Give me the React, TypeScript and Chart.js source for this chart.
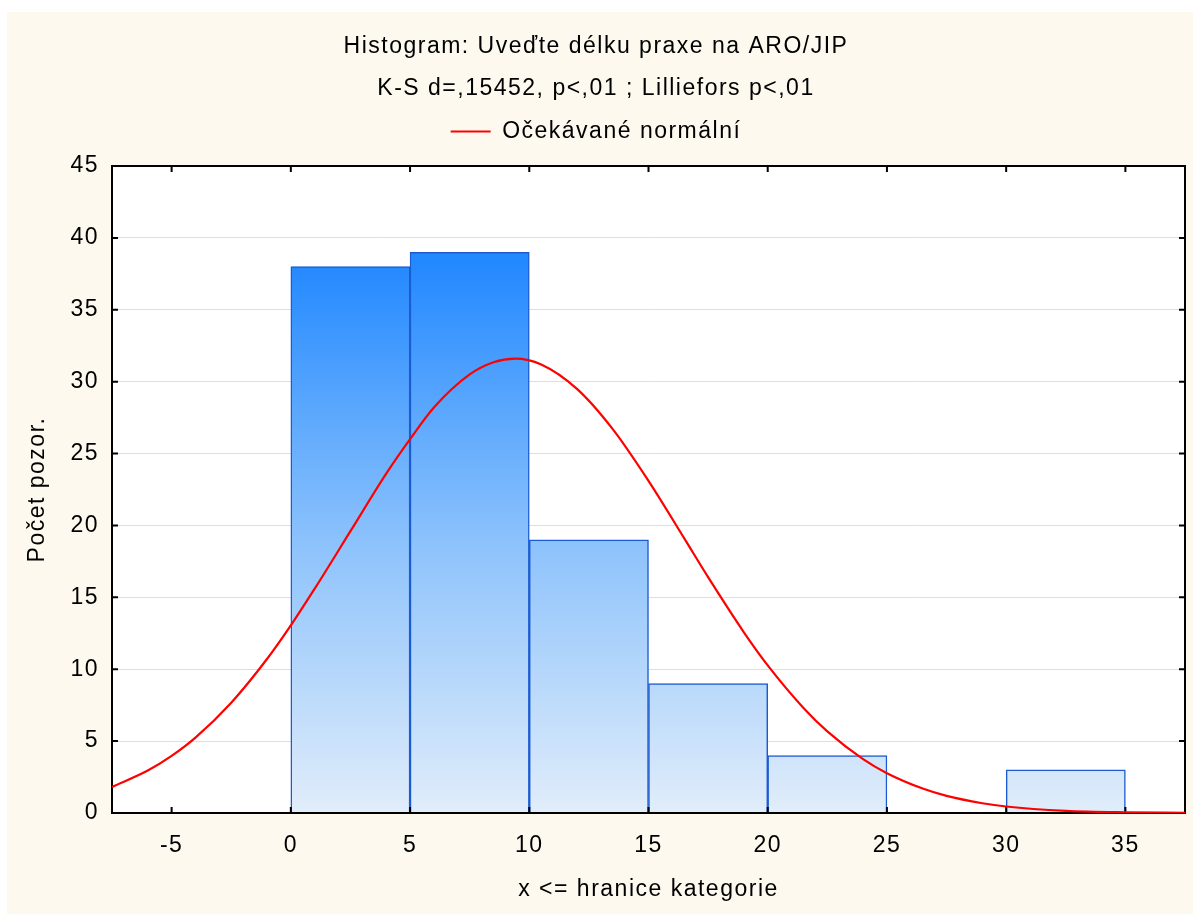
import React, { useEffect, useRef } from 'react';
import { Chart, registerables, layouts } from 'chart.js';

Chart.register(...registerables);

const titleLines = ['Histogram: Uveďte délku praxe na ARO/JIP', 'K-S d=,15452, p<,01 ; Lilliefors p<,01'];
const legendLabel = 'Očekávané normální';
const xAxisTitle = 'x <= hranice kategorie';
const yAxisTitle = 'Počet pozor.';

const binStarts = [-5, 0, 5, 10, 15, 20, 25, 30];
const binWidth = 5;
const binCounts = [0, 38, 39, 19, 9, 4, 0, 3];

const curveX = [-7.5, -6, -5, -4, -2.5, -1, 0, 1, 2.5, 4, 5, 6, 7.5, 8.5, 9.4, 10.5, 12, 13.5, 15, 16.5, 17.5, 19, 20, 21.5, 22.5, 24, 25, 26.5, 27.5, 29, 30, 32.5, 35, 37.5];
const curveY = [1.81, 2.95, 3.97, 5.24, 7.67, 10.71, 13.05, 15.6, 19.6, 23.6, 26.0, 28.2, 30.5, 31.35, 31.6, 31.2, 29.5, 26.7, 23.1, 19.1, 16.4, 12.57, 10.27, 7.31, 5.68, 3.75, 2.77, 1.7, 1.19, 0.68, 0.45, 0.15, 0.045, 0.012];

const xTickValues = [-5, 0, 5, 10, 15, 20, 25, 30, 35];
const yTickValues = [0, 5, 10, 15, 20, 25, 30, 35, 40, 45];

const FONT = "'Liberation Sans', Arial, sans-serif";
const FONT_SIZE = 23;
const CREAM = '#fdf9ef';
const SPACING = '1.5px';

const framePlugin = {
  id: 'statFrame',
  beforeInit(chart: any) {
    const spacer: any = {
      position: 'top',
      weight: 500,
      fullSize: true,
      options: {},
      top: 0,
      left: 0,
      right: 0,
      bottom: 0,
      width: 0,
      height: 0,
      isHorizontal() {
        return true;
      },
      update(maxWidth: number) {
        this.width = maxWidth;
        this.height = 13;
      },
      draw() {},
    };
    layouts.addBox(chart, spacer);
  },
  beforeUpdate(chart: any) {
    chart.ctx.letterSpacing = SPACING;
  },
  beforeDraw(chart: any) {
    const { ctx, chartArea, width, height } = chart;
    ctx.letterSpacing = SPACING;
    ctx.save();
    ctx.fillStyle = CREAM;
    ctx.fillRect(0, 0, width, height);
    ctx.fillStyle = '#ffffff';
    ctx.fillRect(chartArea.left, chartArea.top, chartArea.right - chartArea.left, chartArea.bottom - chartArea.top);
    ctx.restore();
  },
  afterDatasetDraw(chart: any, args: any) {
    if (args.index !== 0) return;
    const { ctx, chartArea } = chart;
    const xs = chart.scales.x;
    const ys = chart.scales.y;
    const { left, right, top, bottom } = chartArea;
    ctx.save();
    ctx.strokeStyle = '#000';
    ctx.lineWidth = 2;
    ctx.strokeRect(left, top, right - left, bottom - top);
    const tl = 6;
    ctx.beginPath();
    xTickValues.forEach((v) => {
      const px = xs.getPixelForValue(v);
      ctx.moveTo(px, bottom);
      ctx.lineTo(px, bottom - tl);
      ctx.moveTo(px, top);
      ctx.lineTo(px, top + tl);
    });
    yTickValues.forEach((v) => {
      const py = ys.getPixelForValue(v);
      ctx.moveTo(left, py);
      ctx.lineTo(left + tl, py);
      ctx.moveTo(right, py);
      ctx.lineTo(right - tl, py);
    });
    ctx.stroke();
    ctx.restore();
  },
};

export default function App() {
  const ref = useRef<HTMLCanvasElement | null>(null);

  useEffect(() => {
    document.body.style.margin = '0';
    document.body.style.background = '#ffffff';
    const canvas = ref.current;
    if (!canvas) return;
    Chart.defaults.font.family = FONT;

    const barData = binStarts.map((s, i) => ({ x: s + binWidth / 2, y: binCounts[i] }));
    const lineData = curveX.map((x, i) => ({ x, y: curveY[i] }));

    const gradient = (c: any) => {
      const chart = c.chart;
      const area = chart.chartArea;
      if (!area) return '#2a8cff';
      const g = chart.ctx.createLinearGradient(0, area.top, 0, area.bottom);
      g.addColorStop(0, '#1782ff');
      g.addColorStop(0.15, '#2389ff');
      g.addColorStop(0.58, '#8cc2fc');
      g.addColorStop(1, '#e1edfa');
      return g;
    };

    const chart = new Chart(canvas, {
      type: 'bar',
      data: {
        datasets: [
          {
            type: 'bar',
            label: 'Počet',
            data: barData as any,
            backgroundColor: gradient,
            borderColor: '#1c5cd2',
            borderWidth: 1.5,
            borderSkipped: 'start',
            barPercentage: 1,
            categoryPercentage: 1,
            order: 1,
          } as any,
          {
            type: 'line',
            label: legendLabel,
            data: lineData as any,
            borderColor: '#ff0000',
            backgroundColor: '#ff0000',
            borderWidth: 2.2,
            pointRadius: 0,
            tension: 0.4,
            cubicInterpolationMode: 'monotone',
            fill: false,
            order: 0,
          } as any,
        ],
      },
      options: {
        animation: false,
        responsive: false,
        devicePixelRatio: 1,
        layout: { padding: { left: 0, right: 8, top: 0, bottom: 0 } },
        plugins: {
          tooltip: { enabled: false },
          title: {
            display: true,
            text: titleLines,
            color: '#000',
            font: { size: FONT_SIZE, family: FONT, weight: 'normal', lineHeight: 42 / FONT_SIZE },
            padding: { top: 14, bottom: 0 },
          },
          legend: {
            display: true,
            position: 'top',
            labels: {
              filter: (item: any) => item.datasetIndex === 1,
              color: '#000',
              font: { size: FONT_SIZE, family: FONT },
              usePointStyle: true,
              pointStyle: 'line',
              pointStyleWidth: 40,
              padding: 10,
            },
          },
        },
        scales: {
          x: {
            type: 'linear',
            min: -7.5,
            max: 37.5,
            offset: false,
            grid: { display: false, drawTicks: false },
            border: { display: false },
            ticks: {
              color: '#000',
              font: { size: FONT_SIZE, family: FONT },
              padding: 19,
              autoSkip: false,
              maxRotation: 0,
            },
            afterBuildTicks: (s: any) => {
              s.ticks = xTickValues.map((v) => ({ value: v }));
            },
            afterFit: (s: any) => {
              s.height = 101;
            },
            title: {
              display: true,
              text: xAxisTitle,
              color: '#000',
              font: { size: FONT_SIZE, family: FONT },
              padding: { top: 0, bottom: 11 },
            },
          },
          y: {
            type: 'linear',
            min: 0,
            max: 45,
            grid: { color: '#dedede', lineWidth: 1, drawTicks: false },
            border: { display: false },
            ticks: {
              color: '#000',
              font: { size: FONT_SIZE, family: FONT },
              padding: 13,
              stepSize: 5,
            },
            afterBuildTicks: (s: any) => {
              s.ticks = yTickValues.map((v) => ({ value: v }));
            },
            afterFit: (s: any) => {
              s.width = 105;
            },
            title: {
              display: true,
              text: yAxisTitle,
              color: '#000',
              font: { size: FONT_SIZE, family: FONT },
              padding: { top: 17, bottom: 0 },
            },
          },
        },
      } as any,
      plugins: [framePlugin],
    });

    return () => {
      chart.destroy();
    };
  }, []);

  return (
    <div style={{ position: 'absolute', left: 7, top: 12, width: 1186, height: 902 }}>
      <canvas ref={ref} width={1186} height={902} style={{ display: 'block', width: 1186, height: 902 }} />
    </div>
  );
}
